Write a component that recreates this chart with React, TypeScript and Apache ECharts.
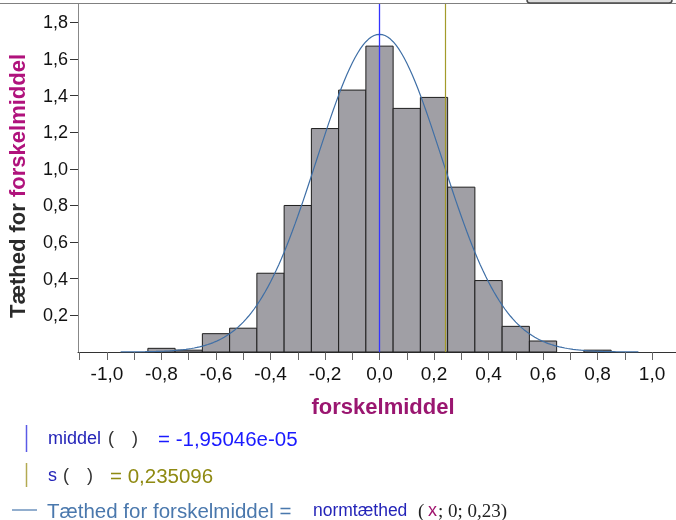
import React, { useEffect, useRef } from "react";
import * as echarts from "echarts";

// ---- data ----
const BIN_WIDTH = 0.1;
const binCenters = [-0.8, -0.7, -0.6, -0.5, -0.4, -0.3, -0.2, -0.1, 0.0, 0.1, 0.2, 0.3, 0.4, 0.5, 0.6, 0.7, 0.8];
const binDensity = [0.02, 0.01, 0.10, 0.13, 0.43, 0.80, 1.22, 1.43, 1.67, 1.33, 1.39, 0.90, 0.39, 0.14, 0.06, 0.0, 0.01];
const meanValue = -1.95046e-5;
const sdValue = 0.235096;
// density curve: normtæthed(x; 0; 0,23)
const curveMean = 0;
const curveSd = 0.23;
const curveFrom = -0.95;
const curveTo = 0.95;
const xLabelValues = [-1.0, -0.8, -0.6, -0.4, -0.2, 0.0, 0.2, 0.4, 0.6, 0.8, 1.0];
const xTickValues = [-1.1, -1.0, -0.9, -0.8, -0.7, -0.6, -0.5, -0.4, -0.3, -0.2, -0.1, 0.0, 0.1, 0.2, 0.3, 0.4, 0.5, 0.6, 0.7, 0.8, 0.9, 1.0];
const yTickValues = [0.2, 0.4, 0.6, 0.8, 1.0, 1.2, 1.4, 1.6, 1.8];

const SANS = '"Liberation Sans", Arial, sans-serif';
const SERIF = '"Liberation Serif", "Times New Roman", serif';

function normPdf(x: number, m: number, s: number) {
  return Math.exp(-0.5 * ((x - m) / s) ** 2) / (s * Math.sqrt(2 * Math.PI));
}

const fmt = (v: number) => (Math.abs(v) < 1e-9 ? 0 : v).toFixed(1).replace(".", ",");

export default function App() {
  const ref = useRef<HTMLDivElement>(null);
  useEffect(() => {
    if (!ref.current) return;
    const chart = echarts.init(ref.current, null, { renderer: "svg" });

    const curve: number[][] = [];
    const steps = 190;
    for (let i = 0; i <= steps; i++) {
      const x = curveFrom + ((curveTo - curveFrom) * i) / steps;
      curve.push([x, normPdf(x, curveMean, curveSd)]);
    }
    const hist = binCenters.map((c, i) => [c, binDensity[i]]);

    const txt = (x: number, y: number, text: string, fill: string, font: string, extra: any = {}) => ({
      type: "text",
      x,
      y,
      silent: true,
      style: { text, fill, font, align: "left", verticalAlign: "middle", ...extra },
    });

    chart.setOption({
      animation: false,
      grid: { left: 78, top: 4, width: 598, height: 348, outerBoundsMode: "none" },
      xAxis: {
        type: "value",
        min: -1.1064,
        max: 1.088,
        axisLine: { show: true, onZero: false, lineStyle: { color: "#333", width: 1 } },
        axisTick: { show: true, customValues: xTickValues, length: 8, inside: false, lineStyle: { color: "#666" } },
        axisLabel: {
          customValues: xLabelValues,
          formatter: (v: number) => fmt(v),
          color: "#111",
          fontFamily: SANS,
          fontSize: 19,
          margin: 12,
        },
        splitLine: { show: false },
      },
      yAxis: {
        type: "value",
        min: 0,
        max: 1.9,
        axisLine: { show: true, onZero: false, lineStyle: { color: "#888", width: 1 } },
        axisTick: { show: true, customValues: yTickValues, length: 8, inside: false, lineStyle: { color: "#333" } },
        axisLabel: {
          customValues: yTickValues,
          formatter: (v: number) => fmt(v),
          color: "#111",
          fontFamily: SANS,
          fontSize: 18,
          margin: 10,
        },
        splitLine: { show: false },
      },
      series: [
        {
          type: "custom",
          data: hist,
          encode: { x: 0, y: 1 },
          silent: true,
          renderItem: (params: any, api: any) => {
            const c = api.value(0);
            const h = api.value(1);
            if (!(h > 0)) return null;
            const p0 = api.coord([c - BIN_WIDTH / 2, h]);
            const p1 = api.coord([c + BIN_WIDTH / 2, 0]);
            return {
              type: "rect",
              shape: { x: p0[0], y: p0[1], width: p1[0] - p0[0], height: p1[1] - p0[1] },
              style: { fill: "#a09fa5", stroke: "#1e1e1e", lineWidth: 1 },
            };
          },
        },
        {
          type: "line",
          data: curve,
          showSymbol: false,
          symbol: "none",
          smooth: false,
          silent: true,
          z: 3,
          lineStyle: { color: "#3f6fa6", width: 1.2 },
          markLine: {
            silent: true,
            symbol: ["none", "none"],
            label: { show: false },
            data: [
              { xAxis: meanValue, lineStyle: { color: "#3434ff", width: 1.3, type: "solid" } },
              { xAxis: sdValue, lineStyle: { color: "#a39b2a", width: 1.2, type: "solid" } },
            ],
          },
        },
      ],
      graphic: [
        { type: "line", silent: true, shape: { x1: 0, y1: 3.5, x2: 676, y2: 3.5 }, style: { stroke: "#808080", lineWidth: 1 } },
        { type: "rect", silent: true, shape: { x: 527, y: -9, width: 145, height: 12, r: 3 }, style: { fill: "#dcdcdc", stroke: "#4a4a4a", lineWidth: 1.5 } },
        {
          type: "text",
          x: 17,
          y: 186,
          rotation: Math.PI / 2,
          silent: true,
          style: {
            text: "{a|Tæthed for }{b|forskelmiddel}",
            align: "center",
            verticalAlign: "middle",
            rich: {
              a: { fill: "#2a2a2a", fontSize: 22, fontWeight: "bold", fontFamily: SANS },
              b: { fill: "#b0127c", fontSize: 22, fontWeight: "bold", fontFamily: SANS },
            },
          },
        },
        {
          type: "text",
          x: 383,
          y: 406,
          silent: true,
          style: { text: "forskelmiddel", fill: "#9a1670", font: `bold 22px ${SANS}`, align: "center", verticalAlign: "middle" },
        },
        // legend rows
        { type: "line", silent: true, shape: { x1: 26.5, y1: 425, x2: 26.5, y2: 452 }, style: { stroke: "#5a5ae6", lineWidth: 1.5 } },
        txt(48, 438, "middel", "#2424b8", `18px ${SANS}`),
        txt(108, 438, "(", "#333", `18px ${SANS}`),
        txt(132, 438, ")", "#333", `18px ${SANS}`),
        txt(158, 438, "= -1,95046e-05", "#1a1aff", `20.5px ${SANS}`),
        { type: "line", silent: true, shape: { x1: 26.5, y1: 463, x2: 26.5, y2: 487 }, style: { stroke: "#b3aa52", lineWidth: 1.5 } },
        txt(48, 475, "s", "#2424b8", `18px ${SANS}`),
        txt(63, 475, "(", "#333", `18px ${SANS}`),
        txt(87, 475, ")", "#333", `18px ${SANS}`),
        txt(110, 475, "= 0,235096", "#8f8a12", `20.5px ${SANS}`),
        { type: "line", silent: true, shape: { x1: 12, y1: 510, x2: 37, y2: 510 }, style: { stroke: "#4a78ad", lineWidth: 1.2 } },
        txt(47, 510, "Tæthed for forskelmiddel =", "#4a78ad", `20.5px ${SANS}`),
        txt(313, 510, "normtæthed", "#2424b8", `17.5px ${SANS}`),
        txt(418, 510, "(", "#222", `19px ${SERIF}`),
        txt(428, 510, "x", "#a0156e", `18px ${SANS}`),
        txt(438, 510, "; 0; 0,23)", "#222", `19px ${SERIF}`),
      ],
    });
    return () => chart.dispose();
  }, []);
  return <div ref={ref} style={{ position: "fixed", left: 0, top: 0, width: 676, height: 520 }} />;
}
